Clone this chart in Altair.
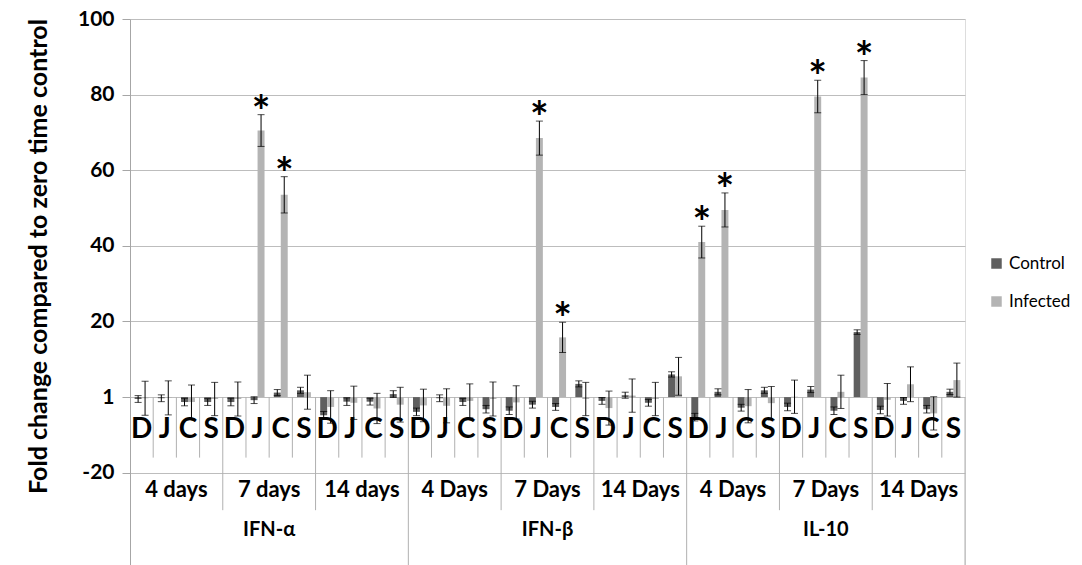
import altair as alt
import pandas as pd

genes = ["IFN-α", "IFN-β", "IL-10"]
times = [["4 days", "7 days", "14 days"],
         ["4 Days", "7 Days", "14 Days"],
         ["4 Days", "7 Days", "14 Days"]]
tissues = ["D", "J", "C", "S"]

control = [
    -0.5, -0.3, -1.3, -1.3,   -1.3, -0.8, 1.2, 1.8,   -4.8, -1.2, -1.2, 0.8,
    -3.9, -0.3, -1.3, -3.2,   -3.6, -2.0, -2.6, 3.5,  -1.0, 0.5, -1.5, 6.0,
    -5.3, 1.4, -2.8, 1.8,     -2.6, 2.0, -3.6, 17.2,  -3.4, -1.0, -3.2, 1.4,
]
control_err = [
    0.9, 0.9, 1.0, 0.9,   1.0, 0.9, 0.8, 0.8,   1.0, 1.0, 0.9, 0.9,
    1.0, 0.9, 0.9, 1.0,   1.0, 0.9, 0.9, 0.8,   0.9, 0.8, 0.9, 0.7,
    1.0, 0.8, 0.9, 0.8,   1.0, 0.8, 1.0, 0.6,   1.0, 0.9, 1.0, 0.7,
]
infected = [
    -0.3, -0.2, -1.3, -0.5,   -0.5, 70.5, 53.5, 1.3,   -2.6, -1.5, -3.0, -2.0,
    -2.2, -2.3, -1.0, -0.5,   -1.4, 68.5, 15.8, -0.5,  -2.9, 0.4, -0.5, 5.5,
    41.0, 49.5, -2.4, -1.6,   0.1, 79.5, 1.4, 84.5,    -0.7, 3.4, -4.3, 4.5,
]
infected_err = [
    4.5, 4.5, 4.5, 4.4,   4.5, 4.2, 4.8, 4.5,   4.3, 4.4, 4.0, 4.6,
    4.3, 4.5, 4.5, 4.5,   4.4, 4.5, 4.0, 4.4,   4.5, 4.4, 4.4, 5.0,
    4.2, 4.5, 4.4, 4.4,   4.4, 4.3, 4.4, 4.5,   4.3, 4.6, 4.4, 4.5,
]
significant = [
    0, 0, 0, 0,   0, 1, 1, 0,   0, 0, 0, 0,
    0, 0, 0, 0,   0, 1, 1, 0,   0, 0, 0, 0,
    1, 1, 0, 0,   0, 1, 0, 1,   0, 0, 0, 0,
]

Y_TITLE = "Fold change compared to zero time control"
BOTTOM = -44.4
FONT = "Lato"

rows = []
i = 0
for g in range(3):
    for t in range(3):
        for s in range(4):
            for series, vals, errs in (("Control", control, control_err),
                                       ("Infected", infected, infected_err)):
                rows.append({
                    "idx": i, "gene": genes[g], "time": times[g][t],
                    "tissue": tissues[s], "series": series,
                    "value": vals[i], "err": errs[i],
                    "sig": significant[i] if series == "Infected" else 0,
                })
            i += 1
df = pd.DataFrame(rows)

tissue_df = pd.DataFrame({"pos": [k + 0.5 for k in range(36)],
                          "label": [tissues[k % 4] for k in range(36)],
                          "ly": -8.7})
time_df = pd.DataFrame({"pos": [4 * k + 2 for k in range(9)],
                        "label": [times[k // 3][k % 3] for k in range(9)],
                        "ly": -24.6})
gene_df = pd.DataFrame({"pos": [12 * k + 6 for k in range(3)],
                        "label": genes, "ly": -35.2})
bounds = list(range(1, 37))
sep_df = pd.DataFrame({
    "b": bounds,
    "y0": 0,
    "y1": [BOTTOM if b % 12 == 0 else (-29.9 if b % 4 == 0 else -16.0) for b in bounds],
})

xscale = alt.Scale(domain=[0, 36], nice=False, zero=False)
yscale = alt.Scale(domain=[BOTTOM, 100], nice=False, zero=False)
yaxis = alt.Axis(
    values=[-20, 0, 20, 40, 60, 80, 100],
    labelExpr="datum.value == 0 ? '1' : toString(datum.value)",
    title=Y_TITLE, grid=True, gridColor="#bdbdbd", domainColor="#a6a6a6",
    tickColor="#a6a6a6", tickSize=8, labelFontSize=21, labelFontWeight="bold",
    labelFont=FONT, labelColor="#000000", labelPadding=8,
    titleFont=FONT, titleFontSize=25, titleFontWeight="bold", titleColor="#000000",
    titleX=-92, titleY=237, titleBaseline="middle",
)

base = alt.Chart(df).transform_calculate(
    x0="datum.series == 'Control' ? datum.idx + 0.2 : datum.idx + 0.5",
    x1="datum.series == 'Control' ? datum.idx + 0.5 : datum.idx + 0.8",
    xc="datum.series == 'Control' ? datum.idx + 0.35 : datum.idx + 0.65",
    lo="datum.value - datum.err",
    hi="datum.value + datum.err",
)

bars = base.mark_bar().encode(
    x=alt.X("x0:Q", scale=xscale, axis=None),
    x2="x1:Q",
    y=alt.Y("value:Q", scale=yscale, axis=yaxis),
    y2=alt.datum(0),
    color=alt.Color("series:N",
                    scale=alt.Scale(domain=["Control", "Infected"],
                                    range=["#5f5f5f", "#b4b4b4"]),
                    legend=alt.Legend(title=None, orient="none", legendX=858, legendY=236,
                                      symbolType="square", symbolSize=110,
                                      labelFontSize=17, labelFont=FONT,
                                      labelColor="#000000", rowPadding=20,
                                      labelOffset=4, symbolStrokeWidth=0)),
)

err_rule = base.mark_rule(color="#000000", strokeWidth=1).encode(
    x=alt.X("xc:Q", scale=xscale, axis=None),
    y=alt.Y("lo:Q", scale=yscale, axis=yaxis),
    y2="hi:Q",
)
cap_lo = base.mark_tick(orient="horizontal", size=7, thickness=1, color="#000000").encode(
    x=alt.X("xc:Q", scale=xscale, axis=None),
    y=alt.Y("lo:Q", scale=yscale, axis=yaxis),
)
cap_hi = base.mark_tick(orient="horizontal", size=7, thickness=1, color="#000000").encode(
    x=alt.X("xc:Q", scale=xscale, axis=None),
    y=alt.Y("hi:Q", scale=yscale, axis=yaxis),
)
stars = base.transform_filter("datum.sig == 1").mark_text(
    text="*", fontSize=44, fontWeight="bold", font=FONT, color="#000000",
    baseline="middle", dy=-1,
).encode(
    x=alt.X("xc:Q", scale=xscale, axis=None),
    y=alt.Y("hi:Q", scale=yscale, axis=yaxis),
)

seps = alt.Chart(sep_df).mark_rule(color="#b0b0b0", strokeWidth=1).encode(
    x=alt.X("b:Q", scale=xscale, axis=None),
    y=alt.Y("y0:Q", scale=yscale, axis=yaxis),
    y2="y1:Q",
)

def label_layer(d, size):
    return alt.Chart(d).mark_text(
        fontSize=size, fontWeight="bold", font=FONT, color="#000000", baseline="middle"
    ).encode(
        x=alt.X("pos:Q", scale=xscale, axis=None),
        y=alt.Y("ly:Q", scale=yscale, axis=yaxis),
        text="label:N",
    )

chart = alt.layer(
    seps, bars, err_rule, cap_lo, cap_hi, stars,
    label_layer(tissue_df, 28), label_layer(time_df, 22), label_layer(gene_df, 20),
).properties(
    width=835, height=546,
    autosize=alt.AutoSizeParams(type="none"),
    padding={"left": 130, "top": 19, "right": 117, "bottom": 0},
).configure_view(stroke=None).configure(background="#ffffff")

chart.save("out.html", embed_options={"renderer": "svg", "actions": False})
